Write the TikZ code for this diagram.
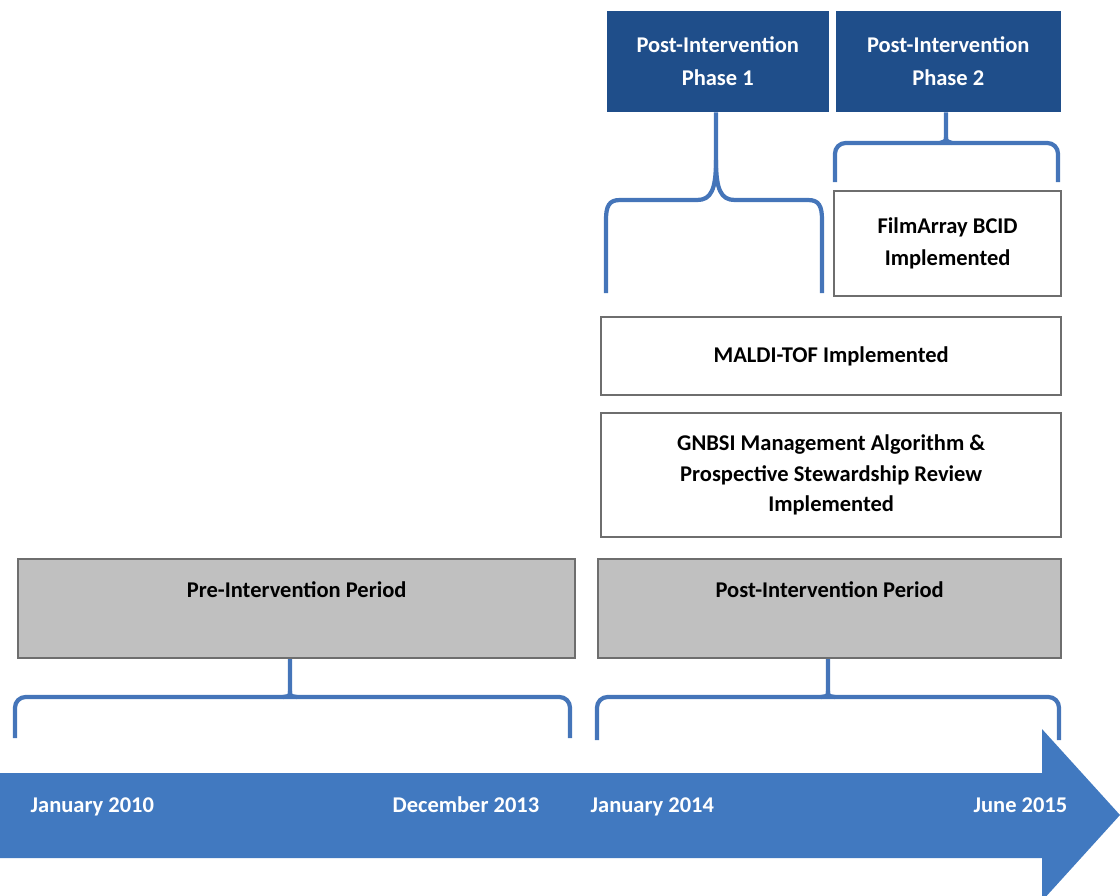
\documentclass[tikz,border=0pt]{standalone}
\usepackage{fontspec}
\setmainfont{Carlito}
\usepackage{tikz}
\usetikzlibrary{positioning}
\definecolor{phaseblue}{HTML}{1F4E8A}
\definecolor{arrowblue}{HTML}{4179C0}
\definecolor{braceblue}{HTML}{4575B9}
\definecolor{boxgrey}{HTML}{C0C0C0}
\definecolor{edgegrey}{HTML}{6E6E6E}

\begin{document}
\begin{tikzpicture}[x=0.01cm,y=-0.01cm,
  every node/.style={font=\bfseries\fontsize{6.4}{9.2}\selectfont,align=center,inner sep=0pt},
  phasebox/.style={fill=phaseblue,text=white,anchor=north west},
  stepnote/.style={draw=edgegrey,line width=0.6pt,fill=white,anchor=north west},
  periodbox/.style={draw=edgegrey,line width=0.6pt,fill=boxgrey,anchor=north west},
  brace/.style={draw=braceblue,line width=1.2pt},
  datelbl/.style={text=white}]
  \useasboundingbox (0,0) rectangle (1120,896);

  % phases on top
  \node[phasebox,minimum width=2.22cm,minimum height=1.01cm] (ph1) at (606,10) {Post-Intervention\\Phase 1};
  \node[phasebox,minimum width=2.25cm,minimum height=1.01cm] (ph2) at (835,10) {Post-Intervention\\Phase 2};

  % what was implemented
  \node[stepnote,minimum width=2.27cm,minimum height=1.05cm] (film) at (833,190) {FilmArray BCID\\Implemented};
  \node[stepnote,minimum width=4.60cm,minimum height=0.78cm] (maldi) at (600,316) {MALDI-TOF Implemented};
  \node[stepnote,minimum width=4.60cm,minimum height=1.24cm,font=\bfseries\fontsize{6.4}{8.6}\selectfont] (gnbsi) at (600,412)
    {GNBSI Management Algorithm \&\\Prospective Stewardship Review\\Implemented};

  % periods
  \node[periodbox,minimum width=5.57cm,minimum height=0.99cm] (pre) at (17,558) {};
  \node[periodbox,minimum width=4.63cm,minimum height=0.99cm] (post) at (597,558) {};
  \node[below=0.23cm of pre.north] (pretxt) {Pre-Intervention Period};
  \node[below=0.23cm of post.north] (posttxt) {Post-Intervention Period};

  % brace ends and stems
  \coordinate (b1l) at (606,293); \coordinate (b1r) at (822,293); \coordinate (s1) at (716,160);
  \coordinate (b2l) at (835,182); \coordinate (b2r) at (1058,182); \coordinate (s2) at (946,137);
  \coordinate (b3l) at (15,738);  \coordinate (b3r) at (570,738);  \coordinate (s3) at (290,691);
  \coordinate (b4l) at (597,740); \coordinate (b4r) at (1059,740); \coordinate (s4) at (828,691);

  \draw[brace] (ph1.south -| s1) -- (s1) .. controls (716,190) and (711,200) .. (697,200) -- (620,200)
    .. controls (609,200) and (606,206) .. (606,220) -- (b1l);
  \draw[brace] (s1) .. controls (716,190) and (721,200) .. (735,200) -- (808,200)
    .. controls (819,200) and (822,206) .. (822,220) -- (b1r);

  \draw[brace,rounded corners=3pt] (b2l) -- (835,143) -- (1058,143) -- (b2r);
  \draw[brace] (ph2.south -| s2) -- (s2) .. controls (946,141) .. (940,143);
  \draw[brace] (s2) .. controls (946,141) .. (952,143);

  \draw[brace,rounded corners=3pt] (b3l) -- (15,697) -- (570,697) -- (b3r);
  \draw[brace] (pre.south -| s3) -- (s3) .. controls (290,696) .. (283,697);
  \draw[brace] (s3) .. controls (290,696) .. (297,697);

  \draw[brace,rounded corners=3pt] (b4l) -- (597,697) -- (1059,697) -- (b4r);
  \draw[brace] (post.south -| s4) -- (s4) .. controls (828,696) .. (821,697);
  \draw[brace] (s4) .. controls (828,696) .. (835,697);

  % time line
  \fill[arrowblue] (0,773) -- (1042,773) -- (1042,729) -- (1120,815) -- (1042,901) -- (1042,858) -- (0,858) -- cycle;
  \node[datelbl,anchor=base west] (jan10) at (30,812) {January 2010};
  \node[datelbl,anchor=base east] (dec13) at (540,812) {December 2013};
  \node[datelbl,anchor=base west] (jan14) at (590,812) {January 2014};
  \node[datelbl,anchor=base east] (jun15) at (1068,812) {June 2015};
\end{tikzpicture}
\end{document}
